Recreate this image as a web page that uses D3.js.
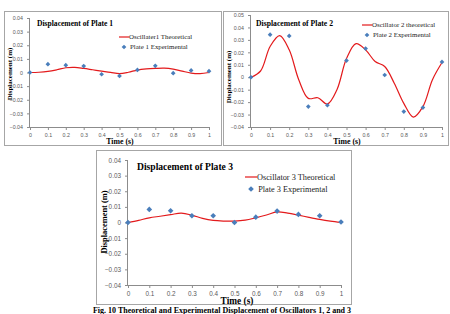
<!DOCTYPE html>
<html>
<head>
<meta charset="utf-8">
<script src="https://cdn.jsdelivr.net/npm/d3@7"></script>
<style>
  body { margin:0; background:#fff; }
  svg { display:block; font-family:"Liberation Serif", "Times New Roman", serif; }
  .tick text { fill:#595959; }
  .tick line, .domain { stroke:#8c8c8c; }
</style>
</head>
<body>
<svg id="chart" width="450" height="314"></svg>
<script>
// time samples
const tExp = [0, 0.1, 0.2, 0.3, 0.4, 0.5, 0.6, 0.7, 0.8, 0.9, 1];
const tTheory = [0, 0.05, 0.1, 0.15, 0.2, 0.25, 0.3, 0.35, 0.4, 0.45, 0.5, 0.55, 0.6, 0.65, 0.7, 0.75, 0.8, 0.85, 0.9, 0.95, 1];
const xTicks = [0, 0.1, 0.2, 0.3, 0.4, 0.5, 0.6, 0.7, 0.8, 0.9, 1];

// plate 1
const exp1 = [0, 0.0061, 0.0054, 0.0047, -0.0013, -0.0025, 0.0019, 0.0049, -0.0005, 0.0015, 0.001];
const theo1 = [0, 0.0002, 0.0008, 0.002, 0.0035, 0.0038, 0.003, 0.002, 0.001, 0.0001, -0.0008, 0.0002, 0.0018, 0.0026, 0.003, 0.0032, 0.0025, 0.001, -0.0004, -0.0008, 0];
// plate 2
const exp2 = [0, 0.0342, 0.0332, -0.0236, -0.0225, 0.0134, 0.023, 0.0018, -0.0276, -0.0244, 0.0123];
const theo2 = [0, 0.005, 0.0247, 0.0335, 0.022, -0.002, -0.017, -0.0165, -0.0215, -0.010, 0.015, 0.027, 0.022, 0.0126, 0.0086, -0.0048, -0.021, -0.032, -0.0236, -0.002, 0.0118];
// plate 3
const exp3 = [0, 0.0084, 0.0075, 0.0043, 0.0043, 0, 0.0034, 0.0073, 0.0052, 0.0043, 0.0003];
const theo3 = [0, 0.0014, 0.003, 0.004, 0.005, 0.006, 0.0047, 0.0026, 0.0013, 0.0009, 0.0009, 0.0015, 0.003, 0.0048, 0.0068, 0.006, 0.0047, 0.0033, 0.002, 0.0009, 0];

const yTicks12 = [0.04, 0.03, 0.02, 0.01, 0, -0.01, -0.02, -0.03, -0.04];
const yTicks2 = [0.05, 0.04, 0.03, 0.02, 0.01, 0, -0.01, -0.02, -0.03, -0.04];

const panels = [
  { box:[4, 11, 221, 145], plot:[30, 209, 18, 127], yDom:[-0.04, 0.04], yTicks:yTicks12, exp:exp1, theo:theo1, s:1,
    title:"Displacement of Plate  1", titlePos:[37, 26], titleW:76, legendPos:[119, 37], theoName:"Oscillater1 Theoretical", expName:"Plate 1 Experimental",
    yLab:[10, 74], xLab:[120, 143.5] },
  { box:[223, 11, 448, 145], plot:[251, 442, 15, 127], yDom:[-0.04, 0.05], yTicks:yTicks2, exp:exp2, theo:theo2, s:1,
    title:"Displacement of  Plate  2", titlePos:[256, 25.5], titleW:77, legendPos:[362, 25], theoName:"Oscillator 2 theoretical", expName:"Plate 2 Experimental",
    yLab:[229, 77], xLab:[347, 143.5] },
  { box:[96, 150, 351, 304], plot:[128, 341, 160, 285], yDom:[-0.04, 0.04], yTicks:yTicks12, exp:exp3, theo:theo3, s:1.2,
    title:"Displacement of  Plate  3", titlePos:[137, 170], titleW:96, legendPos:[245, 177], theoName:"Oscillator 3 Theoretical", expName:"Plate 3 Experimental",
    yLab:[104, 222], xLab:[237, 303.5] }
];

const svg = d3.select("#chart");
const fmt = d => d === 0 ? "0" : d3.format(".2f")(d);

for (const p of panels) {
  const s = p.s;
  const [bx0, by0, bx1, by1] = p.box;
  svg.append("rect").attr("x", bx0+0.5).attr("y", by0+0.5).attr("width", bx1-bx0).attr("height", by1-by0)
    .attr("fill", "#fff").attr("stroke", "#a6a6a6").attr("stroke-width", 1);
  const [px0, px1, py0, py1] = p.plot;
  const x = d3.scaleLinear().domain([0, 1]).range([px0, px1]);
  const y = d3.scaleLinear().domain(p.yDom).range([py1, py0]);

  svg.append("g").attr("transform", `translate(${px0},0)`)
    .call(d3.axisLeft(y).tickValues(p.yTicks).tickSize(3).tickPadding(4).tickFormat(fmt))
    .call(g => g.selectAll(".tick text").attr("font-size", 5.3*s))
    .call(g => g.select(".domain").attr("d", `M-0.5,${py1}V${py0}`));
  svg.append("g").attr("transform", `translate(0,${py1})`)
    .call(d3.axisBottom(x).tickValues(xTicks).tickSize(3).tickPadding(3).tickFormat(d => d === 0 || d === 1 ? d : d3.format(".1f")(d)))
    .call(g => g.selectAll(".tick text").attr("font-size", 5.3*s))
    .call(g => g.select(".domain").attr("d", `M${px0},0.5H${px1}`));

  const line = d3.line().x((d, i) => x(tTheory[i])).y(d => y(d)).curve(d3.curveCatmullRom.alpha(0.5));
  svg.append("path").datum(p.theo).attr("d", line).attr("fill", "none").attr("stroke", "#e31a1c").attr("stroke-width", 1.2);

  const diamond = d3.symbol().type(d3.symbolSquare).size(11*s*s);
  svg.append("g").selectAll("path").data(p.exp).join("path")
    .attr("transform", (d, i) => `translate(${x(tExp[i])},${y(d)}) rotate(45)`).attr("d", diamond).attr("fill", "#4a7ebb");

  svg.append("text").attr("x", p.titlePos[0]).attr("y", p.titlePos[1]).attr("font-size", 8.2*s).attr("font-weight", "bold")
    .attr("textLength", p.titleW).attr("lengthAdjust", "spacingAndGlyphs").text(p.title);

  const [lx, ly] = p.legendPos;
  svg.append("line").attr("x1", lx).attr("x2", lx+10*s).attr("y1", ly).attr("y2", ly).attr("stroke", "#e31a1c").attr("stroke-width", 1.2);
  svg.append("text").attr("x", lx+10*s).attr("y", ly+2.4*s).attr("font-size", 6.9*s).attr("fill", "#222").text(p.theoName);
  svg.append("path").attr("transform", `translate(${lx+5*s},${ly+10*s}) rotate(45)`).attr("d", diamond).attr("fill", "#4a7ebb");
  svg.append("text").attr("x", lx+11*s).attr("y", ly+12.4*s).attr("font-size", 6.9*s).attr("fill", "#222").text(p.expName);

  svg.append("text").attr("transform", `translate(${p.yLab[0]},${p.yLab[1]}) rotate(-90)`).attr("text-anchor", "middle").attr("dy", "0.35em")
    .attr("font-size", 7*s).attr("font-weight", "bold").text("Displacement  (m)");
  svg.append("text").attr("x", p.xLab[0]).attr("y", p.xLab[1]).attr("text-anchor", "middle")
    .attr("font-size", 7.8*s).attr("font-weight", "bold").text("Time (s)");
}

svg.append("text").attr("x", 222).attr("y", 313).attr("text-anchor", "middle").attr("font-size", 8).attr("font-weight", "bold")
  .text("Fig. 10 Theoretical and Experimental Displacement of Oscillators 1, 2 and 3");
</script>
</body>
</html>
